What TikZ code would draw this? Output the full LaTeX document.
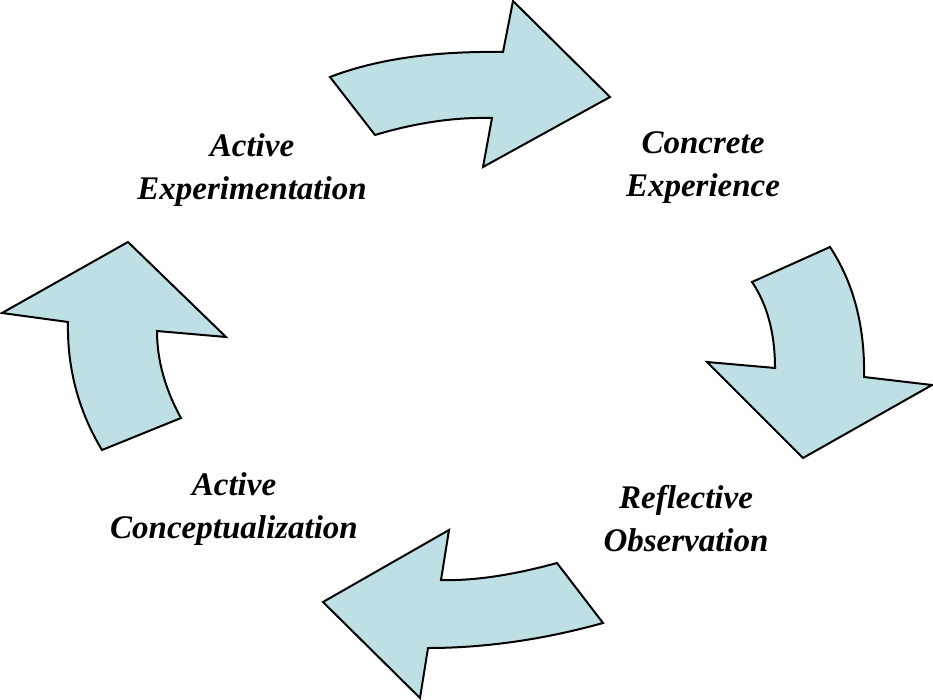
\documentclass[tikz,border=0pt]{standalone}
\usepackage{fontspec}
\setmainfont{Liberation Serif}
\usepackage{tikz}
\definecolor{arrowfill}{RGB}{190,224,228}

\begin{document}
\begin{tikzpicture}[x=1pt,y=-1pt,
			    blockarrow/.style={draw=black,fill=arrowfill,line width=2pt,line join=miter},
			    stage/.style={align=center,inner sep=0pt,font=\fontsize{33}{43}\selectfont\bfseries\itshape},
			]
	    \useasboundingbox (0,0) rectangle (933,700);

	    \node[stage] (concrete) at (703,168) {Concrete\\Experience};
	    \node[stage] (reflective) at (686,519) {Reflective\\Observation};
	    \node[stage] (conceptual) at (234,509) {Active\\Conceptualization};
	    \node[stage] (experiment) at (252,170) {Active\\Experimentation};

	    %top
	    \draw[blockarrow] (330,77) .. controls (377,59) and (434,51) .. (503,52) -- (513,1) -- (610,97)
	        -- (483,167) -- (492,118) .. controls (454,117) and (415,123) .. (375,135) -- cycle;

	    %right
	    \draw[blockarrow] (830,247) .. controls (853,282) and (865,325) .. (864,377) -- (932,385) -- (803,458)
	        -- (707,362) -- (775,368) .. controls (775,333) and (767,304) .. (752,282) -- cycle;

	    %bottom
	    \draw[blockarrow] (603,623) .. controls (542,640) and (483,648) .. (428,648) -- (420,698) -- (323,602)
	        -- (449,530) -- (441,580) .. controls (474,581) and (513,575) .. (557,563) -- cycle;

	    %left
	    \draw[blockarrow] (102,450) .. controls (79,412) and (67,369) .. (68,322) -- (2,313) -- (128,242)
	        -- (226,337) -- (157,331) .. controls (157,360) and (165,389) .. (181,418) -- cycle;
	\end{tikzpicture}
\end{document}
